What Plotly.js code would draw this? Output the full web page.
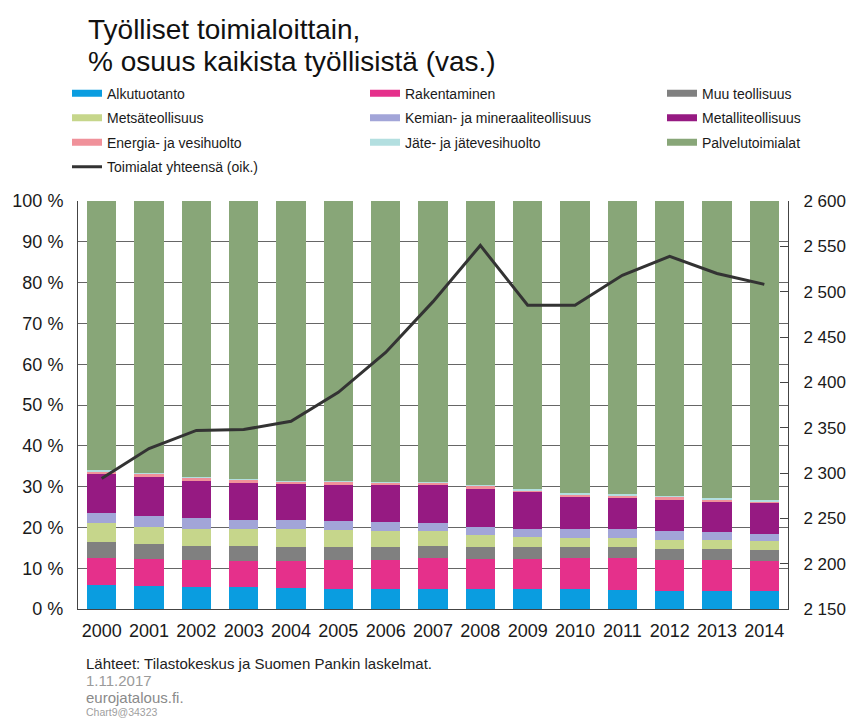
<!DOCTYPE html>
<html>
<head>
<meta charset="utf-8">
<script src="https://cdn.plot.ly/plotly-3.0.1.min.js"></script>
<style>
html, body { margin: 0; padding: 0; background: #ffffff; }
#chart { width: 853px; height: 720px; }
</style>
</head>
<body>
<div id="chart"></div>
<script>
// ---- Data ----
var years = ['2000','2001','2002','2003','2004','2005','2006','2007','2008','2009','2010','2011','2012','2013','2014'];

var seriesNames = ['Alkutuotanto','Rakentaminen','Muu teollisuus','Metsäteollisuus',
  'Kemian- ja mineraaliteollisuus','Metalliteollisuus','Energia- ja vesihuolto',
  'Jäte- ja jätevesihuolto','Palvelutoimialat'];

var alkutuotanto = [6.0, 5.6, 5.4, 5.4, 5.2, 5.0, 5.0, 5.0, 4.8, 4.8, 4.8, 4.6, 4.4, 4.4, 4.4];
var rakentaminen = [6.5, 6.6, 6.6, 6.3, 6.5, 7.0, 7.0, 7.4, 7.4, 7.4, 7.6, 7.8, 7.6, 7.6, 7.3];
var muuTeollisuus = [3.9, 3.7, 3.4, 3.7, 3.5, 3.2, 3.2, 3.0, 3.0, 2.9, 2.8, 2.7, 2.7, 2.6, 2.7];
var metsateollisuus = [4.7, 4.2, 4.3, 4.2, 4.3, 4.1, 3.9, 3.7, 2.9, 2.6, 2.3, 2.4, 2.2, 2.3, 2.2];
var kemianteollisuus = [2.5, 2.7, 2.5, 2.3, 2.3, 2.2, 2.3, 2.1, 2.0, 2.0, 2.1, 2.1, 2.2, 2.0, 1.9];
var metalliteollisuus = [9.4, 9.6, 9.2, 9.0, 8.8, 9.0, 9.1, 9.1, 9.3, 8.9, 7.9, 7.6, 7.7, 7.3, 7.4];
var energiahuolto = [0.8, 0.8, 0.8, 0.8, 0.6, 0.7, 0.5, 0.6, 0.8, 0.5, 0.6, 0.7, 0.7, 0.6, 0.5];
var jatehuolto = [0.2, 0.2, 0.2, 0.2, 0.2, 0.2, 0.2, 0.2, 0.3, 0.3, 0.3, 0.3, 0.3, 0.3, 0.3];
var palvelut = [66.0, 66.6, 67.6, 68.1, 68.6, 68.6, 68.8, 68.9, 69.5, 70.6, 71.6, 71.8, 72.2, 72.9, 73.3];

var lineName = 'Toimialat yhteensä (oik.)';
var toimialatYhteensa = [2294, 2327, 2347, 2348, 2357, 2389, 2433, 2489, 2551, 2485, 2485, 2518, 2539, 2520, 2508];

var leftTickSuffix = ' %';
var titleLine1 = 'Työlliset toimialoittain,';
var titleLine2 = '% osuus kaikista työllisistä (vas.)';
var sourceLines = ['Lähteet: Tilastokeskus ja Suomen Pankin laskelmat.', '1.11.2017', 'eurojatalous.fi.', 'Chart9@34323'];

// ---- Styling ----
var FONT = 'Liberation Sans, Arial, Helvetica, sans-serif';
var colors = ['#0a9de0','#e5308b','#808080','#c6d68b','#a2a5d8','#961a82','#f0919a','#b3dfe0','#88a678'];
var seriesValues = [alkutuotanto, rakentaminen, muuTeollisuus, metsateollisuus, kemianteollisuus,
  metalliteollisuus, energiahuolto, jatehuolto, palvelut];
// which legend column each series sits in (row-major 3-column legend in the reference)
var legendCol = ['legend','legend2','legend3','legend','legend2','legend3','legend','legend2','legend3'];

var traces = [];
// stacked bars (legend uses wide swatches below, linked by legendgroup)
for (var i = 0; i < seriesNames.length; i++) {
  traces.push({
    type: 'bar', x: years, y: seriesValues[i], name: seriesNames[i],
    marker: { color: colors[i], line: { width: 0 } },
    legendgroup: seriesNames[i], showlegend: false,
    xaxis: 'x', yaxis: 'y', hoverinfo: 'name+y'
  });
}
// legend swatches (wide rectangles like the reference)
for (var j = 0; j < seriesNames.length; j++) {
  traces.push({
    type: 'scatter', mode: 'lines', x: [null], y: [null], name: seriesNames[j],
    line: { color: colors[j], width: 7 },
    legend: legendCol[j], legendgroup: seriesNames[j], showlegend: true,
    hoverinfo: 'skip'
  });
}
// total line on right axis
traces.push({
  type: 'scatter', mode: 'lines', x: years, y: toimialatYhteensa, name: lineName,
  line: { color: '#333333', width: 3 },
  xaxis: 'x', yaxis: 'y2', legend: 'legend', legendgroup: lineName
});

function px2py(py) { return (609 - py) / 408.5; }
function px2px(px) { return (px - 78) / 710; }

var legendBase = {
  xanchor: 'left', yanchor: 'top', y: px2py(77),
  traceorder: 'grouped', tracegroupgap: 3.3,
  bgcolor: 'rgba(0,0,0,0)', borderwidth: 0,
  font: { family: FONT, size: 14, color: '#1a1a1a' },
  itemsizing: 'trace'
};
function legendAt(xpx) {
  var o = {}; for (var k in legendBase) o[k] = legendBase[k];
  o.x = px2px(xpx); return o;
}

var layout = {
  width: 853, height: 720,
  margin: { l: 78, r: 65, t: 200.5, b: 111, pad: 0 },
  paper_bgcolor: '#ffffff', plot_bgcolor: '#ffffff',
  font: { family: FONT, color: '#1a1a1a' },
  separators: ', ',
  barmode: 'stack', bargap: 0.387,
  showlegend: true,
  legend: legendAt(67),
  legend2: legendAt(365),
  legend3: legendAt(662),
  xaxis: {
    type: 'category', range: [-0.5, 14.5], fixedrange: true,
    showline: true, linecolor: '#444444', linewidth: 1,
    ticks: '', showgrid: false, zeroline: false, ticklabelstandoff: 5,
    tickfont: { family: FONT, size: 18, color: '#1a1a1a' }
  },
  yaxis: {
    range: [0, 100], dtick: 10, tick0: 0, ticksuffix: leftTickSuffix, fixedrange: true,
    showgrid: true, gridcolor: '#666666', gridwidth: 1,
    showline: true, linecolor: '#444444', linewidth: 1,
    ticks: '', zeroline: false, ticklabelstandoff: 10,
    tickfont: { family: FONT, size: 18, color: '#1a1a1a' }
  },
  yaxis2: {
    overlaying: 'y', side: 'right', range: [2150, 2600], dtick: 50, tick0: 2150, fixedrange: true,
    separatethousands: true,
    showline: true, linecolor: '#444444', linewidth: 1,
    ticks: 'inside', ticklen: 8, tickcolor: '#444444', tickwidth: 1,
    showgrid: false, zeroline: false, ticklabelstandoff: 11,
    tickfont: { family: FONT, size: 17, color: '#1a1a1a' }
  },
  annotations: [
    { text: titleLine1, xref: 'paper', yref: 'paper', x: px2px(86), y: px2py(28.9),
      xanchor: 'left', yanchor: 'middle', showarrow: false,
      font: { family: FONT, size: 28, color: '#111111' } },
    { text: titleLine2, xref: 'paper', yref: 'paper', x: px2px(86), y: px2py(60.9),
      xanchor: 'left', yanchor: 'middle', showarrow: false,
      font: { family: FONT, size: 28, color: '#111111' } },
    { text: sourceLines[0], xref: 'paper', yref: 'paper', x: px2px(84), y: px2py(663.6),
      xanchor: 'left', yanchor: 'middle', showarrow: false,
      font: { family: FONT, size: 15, color: '#222222' } },
    { text: sourceLines[1], xref: 'paper', yref: 'paper', x: px2px(84), y: px2py(680.4),
      xanchor: 'left', yanchor: 'middle', showarrow: false,
      font: { family: FONT, size: 15, color: '#9a9a9a' } },
    { text: sourceLines[2], xref: 'paper', yref: 'paper', x: px2px(84), y: px2py(697.2),
      xanchor: 'left', yanchor: 'middle', showarrow: false,
      font: { family: FONT, size: 15, color: '#8a8a8a' } },
    { text: sourceLines[3], xref: 'paper', yref: 'paper', x: px2px(84), y: px2py(712.2),
      xanchor: 'left', yanchor: 'middle', showarrow: false,
      font: { family: FONT, size: 10.5, color: '#a0a0a0' } }
  ]
};

Plotly.newPlot('chart', traces, layout, { displayModeBar: false, responsive: false });
</script>
</body>
</html>
